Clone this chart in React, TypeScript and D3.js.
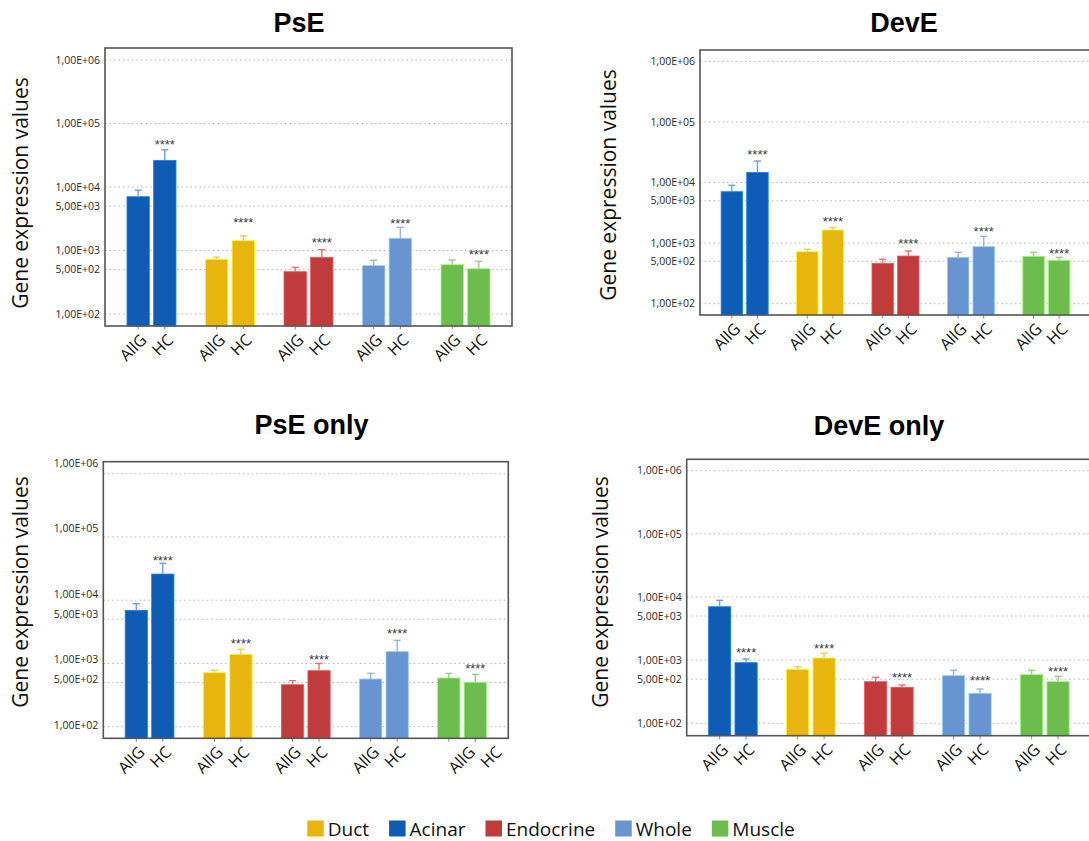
import { useEffect, useRef } from 'react'
import * as d3 from 'd3'

// groups in plotting order, legend order differs
const groups = ['Acinar', 'Duct', 'Endocrine', 'Whole', 'Muscle']
const legendOrder = ['Duct', 'Acinar', 'Endocrine', 'Whole', 'Muscle']
const conditions = ['AllG', 'HC']

const tickValues = [1e2, 5e2, 1e3, 5e3, 1e4, 1e5, 1e6]
const tickLabels = ['1,00E+02', '5,00E+02', '1,00E+03', '5,00E+03', '1,00E+04', '1,00E+05', '1,00E+06']

// PsE
const psEAllG = [7030, 727, 464, 577, 597]
const psEAllGUpper = [8900, 790, 543, 700, 708]
const psEHC = [26300, 1425, 781, 1556, 516]
const psEHCUpper = [38600, 1710, 1030, 2320, 676]
const psEStars = [53000, 3055, 1480, 3020, 982]

// DevE
const devEAllG = [7050, 721, 464, 583, 605]
const devEAllGUpper = [9000, 790, 541, 705, 705]
const devEHC = [14700, 1644, 612, 873, 520]
const devEHCUpper = [22600, 1820, 741, 1295, 583]
const devEStars = [32200, 2560, 1125, 1730, 750]

// PsE only
const psEOnlyAllG = [6920, 714, 461, 568, 589]
const psEOnlyAllGUpper = [8800, 780, 534, 698, 698]
const psEOnlyHC = [25900, 1396, 768, 1535, 504]
const psEOnlyHCUpper = [38300, 1675, 1000, 2323, 673]
const psEOnlyStars = [47600, 2265, 1297, 3260, 912]

// DevE only
const devEOnlyAllG = [7010, 716, 456, 567, 589]
const devEOnlyAllGUpper = [8870, 787, 535, 691, 691]
const devEOnlyHC = [912, 1081, 372, 298, 456]
const devEOnlyHCUpper = [1042, 1283, 404, 349, 555]
const devEOnlyStars = [1449, 1694, 582, 527, 733]

const colors: Record<string, string> = {
  Duct: '#e8b50f',
  Acinar: '#0f5cb5',
  Endocrine: '#c03b3c',
  Whole: '#6994d2',
  Muscle: '#6dbd4e'
}
const errColors: Record<string, string> = {
  Duct: '#f3cd5a',
  Acinar: '#6a9fe0',
  Endocrine: '#e07373',
  Whole: '#94b4e8',
  Muscle: '#93d47c'
}

const SANS = '"Open Sans", "DejaVu Sans", sans-serif'
const ARIAL = '"Liberation Sans", Arial, sans-serif'

const panels = [
  {
    title: 'PsE', titleX: 299, titleY: 31.5,
    frame: { l: 105, r: 512, t: 48, b: 326 }, y100: 314, y1e6: 60,
    yLabelX: 28, yLabelY: 193,
    allg: psEAllG, allgUp: psEAllGUpper, hc: psEHC, hcUp: psEHCUpper, stars: psEStars
  },
  {
    title: 'DevE', titleX: 904, titleY: 31.5,
    frame: { l: 700, r: 1091, t: 50, b: 315 }, y100: 303.7, y1e6: 61.3,
    yLabelX: 616, yLabelY: 185,
    allg: devEAllG, allgUp: devEAllGUpper, hc: devEHC, hcUp: devEHCUpper, stars: devEStars
  },
  {
    title: 'PsE only', titleX: 311.5, titleY: 434,
    frame: { l: 103.3, r: 508.3, t: 461.7, b: 738.3 }, y100: 726.7, y1e6: 473.7,
    labelY100: 725, labelY1e6: 463.3,
    yLabelX: 28, yLabelY: 592, labelNudge: [0, 0, 0, 0, 18],
    allg: psEOnlyAllG, allgUp: psEOnlyAllGUpper, hc: psEOnlyHC, hcUp: psEOnlyHCUpper, stars: psEOnlyStars
  },
  {
    title: 'DevE only', titleX: 879, titleY: 435,
    frame: { l: 686.7, r: 1091, t: 459.3, b: 735.7 }, y100: 723.3, y1e6: 470.7,
    yLabelX: 608, yLabelY: 592,
    allg: devEOnlyAllG, allgUp: devEOnlyAllGUpper, hc: devEOnlyHC, hcUp: devEOnlyHCUpper, stars: devEOnlyStars
  }
]

function drawPanel(svg: d3.Selection<SVGSVGElement, unknown, null, undefined>, p: any) {
  const { l, r, t, b } = p.frame
  const g = svg.append('g')

  const y = d3.scaleLog().domain([1e2, 1e6]).range([p.y100, p.y1e6])
  const yLab = d3.scaleLog().domain([1e2, 1e6]).range([p.labelY100 ?? p.y100, p.labelY1e6 ?? p.y1e6])

  const x0 = d3.scaleBand<string>().domain(groups).range([l, r]).paddingInner(0.376).paddingOuter(0.28)
  const x1 = d3.scaleBand<string>().domain(conditions).range([0, x0.bandwidth()]).paddingInner(0.16)

  // title
  g.append('text')
    .attr('x', p.titleX).attr('y', p.titleY)
    .attr('text-anchor', 'middle')
    .style('font-family', ARIAL).style('font-weight', 'bold').style('font-size', '27px')
    .style('fill', '#000')
    .text(p.title)

  // gridlines
  g.append('g').selectAll('line')
    .data(tickValues)
    .enter().append('line')
    .attr('x1', l).attr('x2', r)
    .attr('y1', d => y(d)).attr('y2', d => y(d))
    .attr('stroke', '#b5b5b5').attr('stroke-width', 1).attr('stroke-dasharray', '1.5,3')

  // tick labels
  g.append('g').selectAll('text')
    .data(tickValues)
    .enter().append('text')
    .attr('x', l - 5).attr('y', d => yLab(d))
    .attr('dy', '0.35em')
    .attr('text-anchor', 'end')
    .style('font-family', SANS).style('font-size', '10.5px').style('fill', '#2a2a2a')
    .text((d, i) => tickLabels[i])

  // y label
  g.append('text')
    .attr('transform', `translate(${p.yLabelX},${p.yLabelY}) rotate(-90)`)
    .attr('text-anchor', 'middle')
    .style('font-family', SANS).style('font-size', '21px').style('fill', '#111')
    .text('Gene expression values')

  const rows = groups.map((grp, i) => ({
    grp, i,
    bars: [
      { cond: 'AllG', v: p.allg[i], up: p.allgUp[i] },
      { cond: 'HC', v: p.hc[i], up: p.hcUp[i] }
    ]
  }))

  const gg = g.append('g').selectAll('g')
    .data(rows)
    .enter().append('g')
    .attr('transform', d => `translate(${x0(d.grp)},0)`)

  const bars = gg.selectAll('g.bar')
    .data(d => d.bars.map(bb => ({ ...bb, grp: d.grp, i: d.i })))
    .enter().append('g').attr('class', 'bar')

  bars.append('rect')
    .attr('x', d => x1(d.cond)!)
    .attr('width', x1.bandwidth())
    .attr('y', d => y(d.v))
    .attr('height', d => b - y(d.v))
    .attr('fill', d => colors[d.grp])
    .attr('stroke', d => d3.color(colors[d.grp])!.brighter(0.9).toString())
    .attr('stroke-width', 0.8)

  // error bars
  bars.append('line')
    .attr('x1', d => x1(d.cond)! + x1.bandwidth() / 2)
    .attr('x2', d => x1(d.cond)! + x1.bandwidth() / 2)
    .attr('y1', d => y(d.v)).attr('y2', d => y(d.up))
    .attr('stroke', d => errColors[d.grp]).attr('stroke-width', 1.4)
  bars.append('line')
    .attr('x1', d => x1(d.cond)! + x1.bandwidth() / 2 - 3.5)
    .attr('x2', d => x1(d.cond)! + x1.bandwidth() / 2 + 3.5)
    .attr('y1', d => y(d.up)).attr('y2', d => y(d.up))
    .attr('stroke', d => errColors[d.grp]).attr('stroke-width', 1.4)

  // ticks under axis
  bars.append('line')
    .attr('x1', d => x1(d.cond)! + x1.bandwidth() / 2)
    .attr('x2', d => x1(d.cond)! + x1.bandwidth() / 2)
    .attr('y1', b).attr('y2', b + 3.5)
    .attr('stroke', '#8a8a8a').attr('stroke-width', 1)

  // x labels
  bars.append('text')
    .attr('transform', d => {
      const nudge = p.labelNudge ? p.labelNudge[d.i] : 0
      const cx = x1(d.cond)! + x1.bandwidth() / 2 + 9.5 + nudge
      return `translate(${cx},${b + 15}) rotate(-45)`
    })
    .attr('text-anchor', 'end')
    .style('font-family', SANS).style('font-size', '16px').style('fill', '#111')
    .text(d => d.cond)

  // significance stars over HC bar
  gg.append('text')
    .attr('x', x1('HC')! + x1.bandwidth() / 2)
    .attr('y', d => y(p.stars[d.i]) + 7.5)
    .attr('text-anchor', 'middle')
    .style('font-family', ARIAL).style('font-size', '13px').style('fill', '#3a3a3a')
    .text('****')

  // frame
  g.append('rect')
    .attr('x', l).attr('y', t)
    .attr('width', r - l).attr('height', b - t)
    .attr('fill', 'none').attr('stroke', '#555').attr('stroke-width', 1.6)
}

export default function App() {
  const svgRef = useRef<SVGSVGElement>(null)

  useEffect(() => {
    if (!svgRef.current) return
    const svg = d3.select(svgRef.current)
    svg.selectAll('*').remove()

    svg.append('rect').attr('width', 1089).attr('height', 841).attr('fill', '#fff')

    panels.forEach(p => drawPanel(svg, p))

    // legend, laid out by measured text width and centred
    const legend = svg.append('g')
    let cursor = 0
    legendOrder.forEach(name => {
      const item = legend.append('g').attr('transform', `translate(${cursor},0)`)
      item.append('rect')
        .attr('x', 0).attr('y', -15.5)
        .attr('width', 16.5).attr('height', 16)
        .attr('fill', colors[name])
      const txt = item.append('text')
        .attr('x', 20.5).attr('y', 0)
        .style('font-family', SANS).style('font-size', '19px').style('fill', '#111')
        .text(name)
      const w = (txt.node() as SVGTextElement).getComputedTextLength()
      cursor += 20.5 + w + 20
    })
    const total = cursor - 20
    legend.attr('transform', `translate(${551 - total / 2},836)`)
  }, [])

  return (
    <svg
      ref={svgRef}
      width={1089}
      height={841}
      style={{ position: 'absolute', left: 0, top: 0, display: 'block' }}
    />
  )
}
